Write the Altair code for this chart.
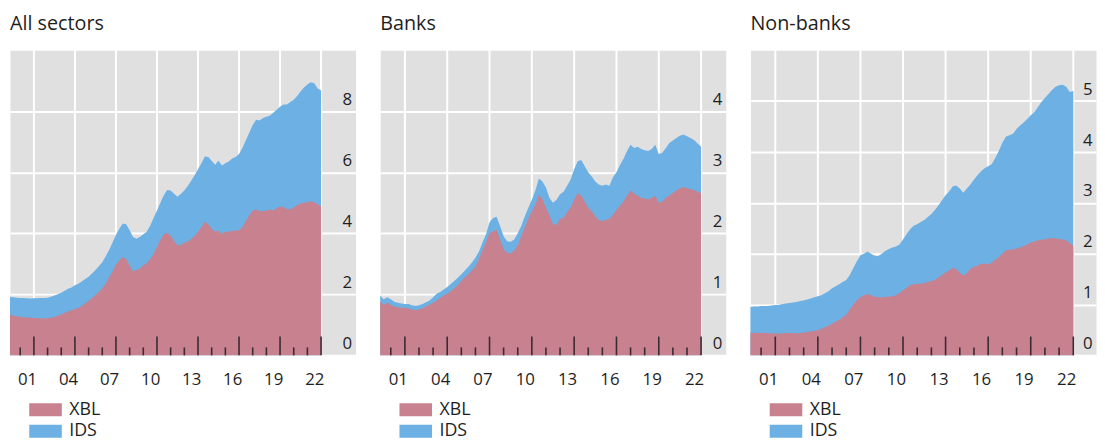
import altair as alt
import pandas as pd

# Quarter-end positions, 2000 Q1 ... 2022 Q4
years = list(range(2000, 2023))
quarter_pos = [y + q / 4 for y in years for q in (1, 2, 3, 4)]

# ---- All sectors (USD trn) ----
all_total = [
    1.91, 1.90, 1.89, 1.88, 1.88, 1.87, 1.86, 1.87, 1.87, 1.88, 1.88, 1.89,
    1.92, 1.96, 2.00, 2.05, 2.12, 2.18, 2.22, 2.30, 2.35, 2.42, 2.50, 2.58,
    2.68, 2.80, 2.92, 3.05, 3.25, 3.45, 3.70, 3.95, 4.15, 4.32, 4.30, 4.10,
    3.88, 3.82, 3.88, 3.97, 4.05, 4.25, 4.50, 4.75, 5.00, 5.25, 5.42, 5.40,
    5.30, 5.20, 5.30, 5.40, 5.55, 5.72, 5.90, 6.10, 6.30, 6.52, 6.50, 6.38,
    6.25, 6.38, 6.22, 6.30, 6.35, 6.45, 6.50, 6.60, 6.80, 7.05, 7.30, 7.55,
    7.72, 7.70, 7.78, 7.82, 7.85, 7.95, 8.05, 8.15, 8.22, 8.22, 8.30, 8.38,
    8.50, 8.65, 8.78, 8.88, 8.95, 8.92, 8.75, 8.68,
]
all_xbl = [
    1.33, 1.30, 1.28, 1.26, 1.25, 1.24, 1.23, 1.22, 1.22, 1.21, 1.21, 1.22,
    1.23, 1.26, 1.30, 1.34, 1.40, 1.44, 1.48, 1.52, 1.55, 1.62, 1.70, 1.78,
    1.88, 1.98, 2.08, 2.20, 2.35, 2.55, 2.75, 2.98, 3.12, 3.22, 3.15, 2.95,
    2.75, 2.80, 2.85, 2.95, 3.02, 3.15, 3.32, 3.55, 3.78, 3.97, 4.02, 3.92,
    3.75, 3.60, 3.62, 3.70, 3.72, 3.82, 3.90, 4.05, 4.20, 4.38, 4.30, 4.15,
    4.05, 4.08, 3.98, 4.05, 4.05, 4.08, 4.08, 4.10, 4.20, 4.40, 4.58, 4.75,
    4.78, 4.72, 4.72, 4.75, 4.78, 4.75, 4.82, 4.88, 4.85, 4.80, 4.78, 4.85,
    4.92, 4.98, 5.00, 5.02, 5.05, 5.02, 4.95, 4.88,
]

# ---- Banks ----
banks_total = [
    0.98, 0.92, 0.95, 0.92, 0.88, 0.86, 0.85, 0.84, 0.84, 0.82, 0.81, 0.82,
    0.84, 0.87, 0.90, 0.95, 1.01, 1.04, 1.08, 1.12, 1.17, 1.22, 1.27, 1.33,
    1.39, 1.45, 1.52, 1.60, 1.70, 1.85, 1.98, 2.18, 2.25, 2.27, 2.12, 1.95,
    1.87, 1.86, 1.90, 2.00, 2.12, 2.28, 2.42, 2.55, 2.70, 2.90, 2.85, 2.75,
    2.58, 2.50, 2.55, 2.64, 2.68, 2.78, 2.88, 3.05, 3.18, 3.20, 3.10, 3.00,
    2.93, 2.85, 2.80, 2.78, 2.80, 2.78, 2.92, 3.00, 3.12, 3.22, 3.35, 3.45,
    3.40, 3.42, 3.38, 3.36, 3.35, 3.38, 3.45, 3.30, 3.32, 3.40, 3.48, 3.52,
    3.56, 3.60, 3.62, 3.59, 3.56, 3.53, 3.47, 3.42,
]
banks_xbl = [
    0.88, 0.83, 0.86, 0.83, 0.80, 0.79, 0.78, 0.78, 0.77, 0.75, 0.74, 0.75,
    0.77, 0.80, 0.83, 0.86, 0.90, 0.94, 0.98, 1.01, 1.05, 1.10, 1.15, 1.22,
    1.28, 1.33, 1.39, 1.45, 1.58, 1.72, 1.85, 2.00, 2.03, 2.06, 1.90, 1.74,
    1.68, 1.67, 1.72, 1.80, 1.95, 2.10, 2.24, 2.36, 2.47, 2.63, 2.56, 2.42,
    2.30, 2.15, 2.14, 2.24, 2.25, 2.35, 2.42, 2.55, 2.66, 2.62, 2.52, 2.42,
    2.36, 2.28, 2.22, 2.20, 2.22, 2.24, 2.30, 2.38, 2.45, 2.52, 2.62, 2.70,
    2.65, 2.62, 2.58, 2.57, 2.56, 2.58, 2.62, 2.50, 2.52, 2.58, 2.62, 2.66,
    2.70, 2.74, 2.76, 2.74, 2.72, 2.71, 2.68, 2.66,
]

# ---- Non-banks ----
nonbanks_total = [
    0.95, 0.96, 0.96, 0.97, 0.97, 0.97, 0.98, 0.99, 0.99, 1.01, 1.02, 1.03,
    1.04, 1.05, 1.07, 1.08, 1.10, 1.12, 1.14, 1.16, 1.18, 1.22, 1.26, 1.32,
    1.36, 1.40, 1.44, 1.48, 1.58, 1.72, 1.85, 1.97, 2.00, 2.04, 2.00, 1.96,
    1.95, 2.00, 2.05, 2.09, 2.12, 2.14, 2.18, 2.28, 2.38, 2.48, 2.55, 2.58,
    2.62, 2.66, 2.72, 2.78, 2.86, 2.95, 3.05, 3.15, 3.22, 3.32, 3.34, 3.28,
    3.20, 3.28, 3.36, 3.46, 3.54, 3.62, 3.68, 3.72, 3.76, 3.88, 4.02, 4.18,
    4.30, 4.33, 4.36, 4.45, 4.52, 4.58, 4.65, 4.72, 4.78, 4.88, 4.98, 5.06,
    5.14, 5.22, 5.28, 5.31, 5.32, 5.28, 5.18, 5.20,
]
nonbanks_xbl = [
    0.45, 0.44, 0.44, 0.44, 0.44, 0.44, 0.43, 0.43, 0.43, 0.43, 0.44, 0.44,
    0.44, 0.43, 0.44, 0.45, 0.46, 0.47, 0.48, 0.50, 0.52, 0.55, 0.58, 0.62,
    0.66, 0.70, 0.75, 0.80, 0.90, 1.00, 1.08, 1.14, 1.18, 1.20, 1.18, 1.15,
    1.14, 1.14, 1.15, 1.15, 1.16, 1.18, 1.22, 1.28, 1.33, 1.38, 1.40, 1.41,
    1.41, 1.42, 1.44, 1.46, 1.48, 1.53, 1.58, 1.63, 1.67, 1.72, 1.70, 1.62,
    1.57, 1.62, 1.70, 1.74, 1.76, 1.80, 1.80, 1.79, 1.82, 1.88, 1.93, 2.00,
    2.06, 2.08, 2.08, 2.10, 2.12, 2.15, 2.18, 2.22, 2.24, 2.26, 2.28, 2.28,
    2.30, 2.31, 2.30, 2.29, 2.28, 2.26, 2.21, 2.15,
]

major_ticks = [2002, 2005, 2008, 2011, 2014, 2017, 2020, 2023]
minor_ticks = [2001, 2003, 2004, 2006, 2007, 2009, 2010, 2012, 2013, 2015,
               2016, 2018, 2019, 2021, 2022]
label_pos = [2001.5, 2004.5, 2007.5, 2010.5, 2013.5, 2016.5, 2019.5, 2022.5]

PINK = "#c8818f"
BLUE = "#6cb0e4"
GRAY = "#e0e0e0"
TICK = "#3b2a31"
TEXT = "#1e1e1e"
FONT = "Open Sans"
W, H = 350, 309


def panel(title, xbl, total, ymax, yvals, xmax):
    df = pd.DataFrame({
        "t": quarter_pos + quarter_pos,
        "series": ["IDS"] * len(total) + ["XBL"] * len(xbl),
        "value": total + xbl,
    })
    x = alt.X(
        "t:Q",
        scale=alt.Scale(domain=[2000.25, xmax], nice=False, zero=False),
        axis=alt.Axis(
            values=label_pos,
            labelExpr="slice(toString(100 + floor(datum.value) % 100), 1)",
            title=None, domain=False, ticks=False, grid=False,
            labelPadding=17, labelFontSize=17, labelFont=FONT,
            labelColor=TEXT, labelFlush=False, labelOverlap=False,
        ),
    )
    y = alt.Y(
        "value:Q",
        scale=alt.Scale(domain=[0, ymax], nice=False, zero=True),
        axis=alt.Axis(
            orient="right", values=yvals, title=None, domain=False,
            ticks=False, tickSize=0, grid=True, gridColor="white",
            gridWidth=2, gridOpacity=1, labelAlign="right", labelPadding=-4,
            labelBaseline="alphabetic", labelOffset=-7, labelFontSize=17,
            labelFont=FONT, labelColor=TEXT,
        ),
    )
    color = alt.Color(
        "series:N",
        scale=alt.Scale(domain=["XBL", "IDS"], range=[PINK, BLUE]),
        legend=alt.Legend(
            title=None, orient="none", legendX=27, legendY=355,
            direction="vertical", symbolType="M-2,-0.8H2V0.8H-2Z",
            symbolSize=272, symbolStrokeWidth=0, symbolOpacity=1,
            labelFontSize=18, labelFont=FONT, labelColor=TEXT,
            labelOffset=15, rowPadding=4, padding=0,
        ),
    )
    ids_area = alt.Chart(df).transform_filter("datum.series == 'IDS'").mark_area(
        opacity=1).encode(x=x, y=y, color=color)
    xbl_area = alt.Chart(df).transform_filter("datum.series == 'XBL'").mark_area(
        opacity=1).encode(x=x, y=y, color=color)
    grid = alt.Chart(pd.DataFrame({"t": major_ticks})).mark_rule(
        color="white", strokeWidth=2).encode(x=x)
    major = alt.Chart(pd.DataFrame({"t": major_ticks})).mark_rule(
        color=TICK, strokeWidth=1.6).encode(x=x, y=alt.value(H - 19), y2=alt.value(H))
    minor = alt.Chart(pd.DataFrame({"t": minor_ticks})).mark_rule(
        color=TICK, strokeWidth=1.6).encode(x=x, y=alt.value(H - 8), y2=alt.value(H))
    return alt.layer(grid, ids_area, xbl_area, major, minor).properties(
        width=W, height=H,
        title=alt.TitleParams(title, anchor="start", fontSize=20, font=FONT,
                              fontWeight="normal", color=TEXT, offset=16),
    )


p1 = panel("All sectors", all_xbl, all_total, 10, [0, 2, 4, 6, 8], 2025.52)
p2 = panel("Banks", banks_xbl, banks_total, 5, [0, 1, 2, 3, 4], 2024.75)
p3 = panel("Non-banks", nonbanks_xbl, nonbanks_total, 6, [0, 1, 2, 3, 4, 5], 2024.6)

chart = (
    alt.hconcat(p1, p2, p3, spacing=23)
    .resolve_scale(color="independent")
    .resolve_legend(color="independent")
    .properties(padding={"left": 1, "top": 2, "right": 0, "bottom": 0})
    .configure(background="white",
               view=alt.ViewConfig(fill=GRAY, stroke="transparent"))
)

chart.save("out.html", embed_options={"renderer": "svg", "actions": False})
